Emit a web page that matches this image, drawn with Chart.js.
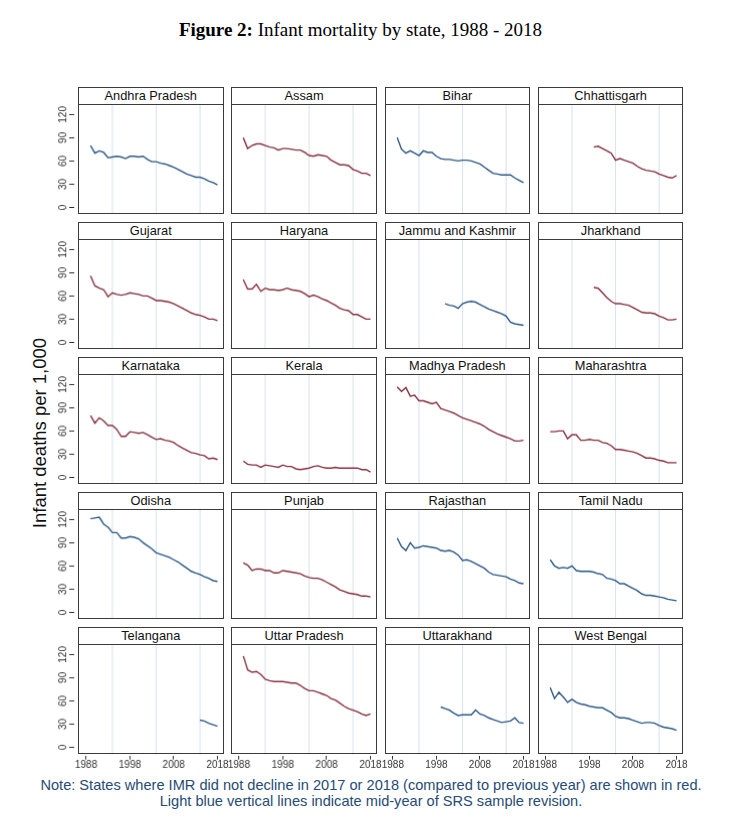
<!DOCTYPE html>
<html><head><meta charset="utf-8">
<script src="https://cdn.jsdelivr.net/npm/chart.js@4.4.0/dist/chart.umd.min.js"></script>
<style>
html,body{margin:0;padding:0;background:#fff;}
body{width:735px;height:827px;position:relative;overflow:hidden;font-family:'Liberation Sans',Arial,sans-serif;}
.frame{position:absolute;box-sizing:border-box;border:1.3px solid #3a3a3a;z-index:2;pointer-events:none;}
.strip{box-sizing:border-box;border-bottom:1.3px solid #3a3a3a;background:#fff;text-align:center;font-size:12.8px;line-height:15px;color:#111;white-space:nowrap;}
.box{position:absolute;z-index:1;}
#title{position:absolute;left:0;top:19px;width:721px;text-align:center;font-family:'Liberation Serif','Times New Roman',serif;font-size:19px;color:#000;}
#ytitle{position:absolute;left:-110px;top:422px;width:300px;height:22px;line-height:22px;text-align:center;font-size:18.5px;color:#111;transform:rotate(-90deg);}
#note{position:absolute;left:0;top:778px;width:742px;text-align:center;font-size:14.6px;line-height:15.5px;color:#264b74;white-space:nowrap;}
</style></head><body>
<div id="title"><b>Figure 2:</b> Infant mortality by state, 1988 - 2018</div>
<div id="ytitle">Infant deaths per 1,000</div>
<div id="note">Note: States where IMR did not decline in 2017 or 2018 (compared to previous year) are shown in red.<br>Light blue vertical lines indicate mid-year of SRS sample revision.</div>
<script>
// ---------- data ----------
const STATES = ['Andhra Pradesh','Assam','Bihar','Chhattisgarh','Gujarat','Haryana','Jammu and Kashmir','Jharkhand','Karnataka','Kerala','Madhya Pradesh','Maharashtra','Odisha','Punjab','Rajasthan','Tamil Nadu','Telangana','Uttar Pradesh','Uttarakhand','West Bengal'];
const FIRST_YEAR = [1989,1989,1989,1999,1989,1989,2000,1999,1989,1989,1989,1989,1989,1989,1989,1989,2014,1989,1999,1989];
const IMR_ANDHRA_PRADESH = [80,70,73,71,64,65,66,65,63,66,66,65,66,62,59,59,57,56,54,52,49,46,43,41,39,39,37,34,32,29];
const IMR_ASSAM = [90,76,80,82,82,80,78,77,74,76,76,75,74,74,71,67,66,68,67,66,61,58,55,55,54,49,47,44,44,41];
const IMR_BIHAR = [90,75,70,73,70,67,73,71,71,66,63,62,62,61,60,61,61,60,58,56,52,48,44,43,42,42,42,38,35,32];
const IMR_CHHATTISGARH = [78,79,76,73,70,61,63,61,59,57,53,50,48,47,46,43,41,39,38,41];
const IMR_GUJARAT = [86,73,70,68,59,64,62,61,62,64,63,62,60,60,57,54,54,53,52,50,47,44,41,38,36,35,33,30,30,28];
const IMR_HARYANA = [81,69,69,75,66,70,68,68,67,68,70,68,67,66,63,59,61,59,56,54,51,48,44,42,41,36,36,33,30,30];
const IMR_JAMMU_KASHMIR = [50,48,47,44,50,52,53,52,49,46,43,41,39,37,34,26,24,23,22];
const IMR_JHARKHAND = [71,70,64,58,53,50,50,49,48,45,42,39,38,38,37,34,32,29,29,30];
const IMR_KARNATAKA = [80,70,77,73,67,67,62,53,53,59,58,57,58,55,52,49,50,48,47,45,41,38,35,32,31,29,28,24,25,23];
const IMR_KERALA = [21,17,16,16,13,16,15,14,13,16,14,14,11,10,11,12,14,15,13,12,12,13,12,12,12,12,12,10,10,7];
const IMR_MADHYA_PRADESH = [117,111,116,105,106,99,99,97,95,97,89,87,85,83,80,77,75,73,71,69,66,62,59,56,54,52,50,47,47,48];
const IMR_MAHARASHTRA = [59,59,60,60,50,55,55,48,48,49,48,48,45,44,41,36,36,35,34,33,31,28,25,25,24,22,21,19,19,19];
const IMR_ODISHA = [121,122,123,114,110,103,103,96,96,98,97,95,90,86,82,77,75,73,71,68,65,61,57,53,51,49,46,44,41,40];
const IMR_PUNJAB = [64,61,54,56,56,54,54,51,51,54,53,52,51,50,47,45,44,44,42,39,36,33,29,27,25,24,23,21,21,20];
const IMR_RAJASTHAN = [96,85,80,90,83,84,86,85,84,83,80,79,80,78,74,67,68,66,63,60,57,52,49,48,47,46,43,41,38,37];
const IMR_TAMIL_NADU = [68,60,57,58,57,60,54,53,53,53,52,50,49,44,43,41,37,37,34,31,28,24,22,22,21,20,19,17,16,15];
const IMR_TELANGANA = [35,34,31,29,27];
const IMR_UTTAR_PRADESH = [118,100,97,98,94,88,86,85,85,85,84,83,83,80,76,73,73,71,69,67,63,61,57,53,50,48,46,43,41,43];
const IMR_UTTARAKHAND = [52,50,48,44,41,42,42,42,48,43,41,38,36,34,32,33,34,38,32,31];
const IMR_WEST_BENGAL = [77,63,71,65,58,62,58,56,55,53,52,51,51,48,45,40,38,38,37,35,33,31,32,32,31,28,26,25,24,22];
const IMR = [IMR_ANDHRA_PRADESH,IMR_ASSAM,IMR_BIHAR,IMR_CHHATTISGARH,IMR_GUJARAT,IMR_HARYANA,IMR_JAMMU_KASHMIR,IMR_JHARKHAND,IMR_KARNATAKA,IMR_KERALA,IMR_MADHYA_PRADESH,IMR_MAHARASHTRA,IMR_ODISHA,IMR_PUNJAB,IMR_RAJASTHAN,IMR_TAMIL_NADU,IMR_TELANGANA,IMR_UTTAR_PRADESH,IMR_UTTARAKHAND,IMR_WEST_BENGAL];
const X_TICKS = [1988,1998,2008,2018];
const Y_TICKS = [0,30,60,90,120];
const REVISION_YEARS = [1994,2004,2014];

// ---------- layout & style ----------
const X_MIN = 1986.2, X_MAX = 2019.6, Y_MIN = -9.5, Y_MAX = 133.5;
const NCOL = 4, NROW = 5;
const COL_LEFT = [78, 231.3, 384.6, 537.9];
const ROW_TOP = [87.3, 222.3, 357.3, 492.3, 627.3];
const PANEL_W = 145.5, STRIP_H = 17, PLOT_H = 109.7;
const Y_AXIS_W = 50, X_AXIS_H = 22, X_EXT = 14;
const BLUE = '#2d5a87', RED = '#88313f', REV_COLOR = '#d9e4ee', AXIS_COLOR = '#333';
const TICK_FAMILY = "'Liberation Sans Narrow','Liberation Sans',Arial,sans-serif";
const TICK_SIZE = 10;

const mctx = document.createElement('canvas').getContext('2d');
mctx.font = TICK_SIZE + 'px ' + TICK_FAMILY;
const widestY = Math.max(...Y_TICKS.map(v => mctx.measureText(String(v)).width));
const Y_TICK_LEN = 9;
const yPad = 14.7 - Y_TICK_LEN - widestY / 2;

function notDeclined(vals) {
  const n = vals.length;
  return vals[n-1] >= vals[n-2] || vals[n-2] >= vals[n-3];
}

const revisionLines = {
  id: 'revisionLines',
  beforeDatasetsDraw(chart) {
    const {ctx, chartArea, scales} = chart;
    ctx.save();
    ctx.strokeStyle = REV_COLOR;
    ctx.lineWidth = 1.1;
    REVISION_YEARS.forEach(yr => {
      const px = scales.x.getPixelForValue(yr);
      ctx.beginPath();
      ctx.moveTo(px, chartArea.top);
      ctx.lineTo(px, chartArea.bottom);
      ctx.stroke();
    });
    ctx.restore();
  }
};

STATES.forEach((name, i) => {
  const row = Math.floor(i / NCOL), col = i % NCOL;
  const left = COL_LEFT[col], top = ROW_TOP[row];
  const frame = document.createElement('div');
  frame.className = 'frame';
  frame.style.left = left + 'px';
  frame.style.top = top + 'px';
  frame.style.width = PANEL_W + 'px';
  frame.style.height = (STRIP_H + PLOT_H) + 'px';
  const strip = document.createElement('div');
  strip.className = 'strip';
  strip.style.height = STRIP_H + 'px';
  strip.textContent = name;
  frame.appendChild(strip);
  document.body.appendChild(frame);

  const showY = col === 0, showX = row === NROW - 1;
  const extL = showY ? Y_AXIS_W : (showX ? X_EXT : 0);
  const extR = showX ? X_EXT : 0;
  const padB = showX ? X_AXIS_H : 0;
  const box = document.createElement('div');
  box.className = 'box';
  box.style.left = (left - extL) + 'px';
  box.style.top = (top + STRIP_H) + 'px';
  box.style.width = (PANEL_W + extL + extR) + 'px';
  box.style.height = (PLOT_H + padB) + 'px';
  const cv = document.createElement('canvas');
  box.appendChild(cv);
  document.body.appendChild(box);

  const vals = IMR[i];
  const pts = vals.map((v, k) => ({x: FIRST_YEAR[i] + k, y: v}));
  const color = notDeclined(vals) ? RED : BLUE;

  new Chart(cv, {
    type: 'line',
    data: { datasets: [{ data: pts, borderColor: color, borderWidth: 1.4, pointRadius: 0, tension: 0, fill: false }] },
    options: {
      responsive: true, maintainAspectRatio: false, animation: false,
      layout: { padding: { left: showY ? 0 : extL, right: extR, top: 0, bottom: 0 }, autoPadding: false },
      plugins: { legend: { display: false }, tooltip: { enabled: false } },
      scales: {
        x: {
          type: 'linear', min: X_MIN, max: X_MAX, display: showX,
          afterBuildTicks: s => { s.ticks = X_TICKS.map(v => ({value: v})); },
          afterFit: s => { s.height = padB; s.paddingLeft = 0; s.paddingRight = 0; },
          grid: { display: true, drawOnChartArea: false, tickLength: 5, tickColor: AXIS_COLOR, tickWidth: 1, tickBorderDash: [0, 1, 4, 50] },
          border: { display: false },
          ticks: { autoSkip: false, maxRotation: 0, minRotation: 0, padding: 0, color: AXIS_COLOR,
                   font: { family: TICK_FAMILY, size: TICK_SIZE }, callback: v => String(v) }
        },
        y: {
          type: 'linear', min: Y_MIN, max: Y_MAX, display: showY,
          afterBuildTicks: s => { s.ticks = Y_TICKS.map(v => ({value: v})); },
          afterFit: s => { s.width = showY ? Y_AXIS_W : 0; s.paddingTop = 0; s.paddingBottom = 0; },
          grid: { display: true, drawOnChartArea: false, tickLength: Y_TICK_LEN, tickColor: AXIS_COLOR, tickWidth: 1, tickBorderDash: [5, 4] },
          border: { display: false },
          ticks: { autoSkip: false, minRotation: 90, maxRotation: 90, crossAlign: 'center', padding: yPad, color: AXIS_COLOR,
                   font: { family: TICK_FAMILY, size: TICK_SIZE }, callback: v => String(v) }
        }
      }
    },
    plugins: [revisionLines]
  });
});
</script>
</body></html>
